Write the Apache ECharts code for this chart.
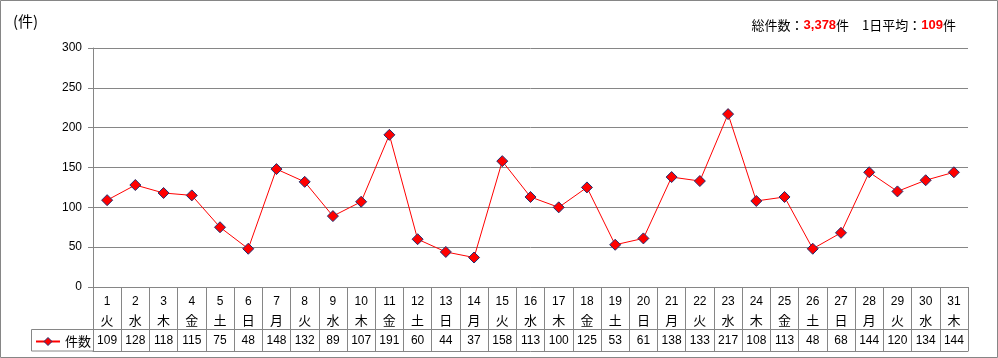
<!DOCTYPE html>
<html><head><meta charset="utf-8">
<script src="https://cdn.jsdelivr.net/npm/echarts@6/dist/echarts.min.js"></script>
<style>html,body{margin:0;padding:0;background:#fff}#c{width:998px;height:358px}</style>
</head><body><div id="c"></div>
<script>
var days = ['1','2','3','4','5','6','7','8','9','10','11','12','13','14','15','16','17','18','19','20','21','22','23','24','25','26','27','28','29','30','31'];
var weekdays = ['火','水','木','金','土','日','月','火','水','木','金','土','日','月','火','水','木','金','土','日','月','火','水','木','金','土','日','月','火','水','木'];
var counts = [109,128,118,115,75,48,148,132,89,107,191,60,44,37,158,113,100,125,53,61,138,133,217,108,113,48,68,144,120,134,144];
var yTicks = {min:0, max:300, interval:50};
var seriesName = '件数';
var totalText = '3,378';
var avgText = '109';

var FONT = '"Liberation Sans","Noto Sans CJK JP",sans-serif';
var JP = '"Noto Sans CJK JP","Liberation Sans",sans-serif';
var GRAY = '#868686';
var chart = echarts.init(document.getElementById('c'));
var cats = days.map(function(d,i){return d+'\n'+weekdays[i];});
chart.setOption({
  animation:false,
  textStyle:{fontFamily:FONT},
  title:[
    {text:'(件)', left:8, top:9, textStyle:{fontFamily:JP, fontSize:15, fontWeight:'normal', color:'#000'}},
    {text:'{k|総件数：}{v|'+totalText+'}{k|件　1日平均：}{v|'+avgText+'}{k|件}', right:37, top:14,
     textStyle:{fontWeight:'normal', rich:{k:{fontFamily:JP,fontSize:13,fontWeight:'normal',color:'#000'},v:{fontFamily:FONT,fontSize:13,fontWeight:'bold',color:'#ff0000'}}}}
  ],
  legend:{left:30, top:330, itemWidth:24, itemHeight:10, itemGap:4,
    data:[{name:seriesName, itemStyle:{color:'#ff0000', borderColor:'#1f2f70', borderWidth:1}}],
    textStyle:{fontFamily:JP, fontSize:13, color:'#000'}},
  graphic:[
    {type:'rect', shape:{x:0.5,y:0.5,width:997,height:357}, style:{fill:'none',stroke:GRAY,lineWidth:1}},
    {type:'rect', shape:{x:31.5,y:329.5,width:62,height:21.5}, style:{fill:'none',stroke:GRAY,lineWidth:1}}
  ],
  grid:{left:93, right:30, top:48, bottom:71},
  xAxis:[
    {type:'category', data:cats, position:'bottom', boundaryGap:true,
     axisLine:{show:true, lineStyle:{color:GRAY}}, axisTick:{show:true, interval:0, length:64, lineStyle:{color:GRAY}},
     axisLabel:{interval:0, margin:5, lineHeight:19, fontSize:12, color:'#000',
       formatter:function(v){var p=v.split('\n');return '{d|'+p[0]+'}\n{w|'+p[1]+'}';},
       rich:{d:{fontFamily:FONT,fontSize:12,color:'#000',lineHeight:19},w:{fontFamily:JP,fontSize:13,color:'#000',lineHeight:19}}}},
    {type:'category', data:counts.map(String), position:'bottom', offset:42, boundaryGap:true,
     axisLine:{show:true, lineStyle:{color:GRAY}}, axisTick:{show:false},
     axisLabel:{interval:0, margin:6, fontSize:12, color:'#000', fontFamily:FONT}},
    {type:'category', data:counts.map(String), position:'bottom', offset:64, boundaryGap:true,
     axisLine:{show:true, lineStyle:{color:GRAY}}, axisTick:{show:false}, axisLabel:{show:false}}
  ],
  yAxis:{type:'value', min:yTicks.min, max:yTicks.max, interval:yTicks.interval,
    axisLine:{show:true, lineStyle:{color:GRAY}}, axisTick:{show:true, length:5, lineStyle:{color:GRAY}},
    axisLabel:{margin:11, fontSize:12, color:'#000', fontFamily:FONT},
    splitLine:{lineStyle:{color:GRAY}}},
  series:[{name:seriesName, type:'line', data:counts, xAxisIndex:0,
    symbol:'diamond', symbolSize:11,
    lineStyle:{color:'#ff0000', width:1},
    itemStyle:{color:'#ff0000', borderColor:'#1f2f70', borderWidth:1}}]
});
</script></body></html>
